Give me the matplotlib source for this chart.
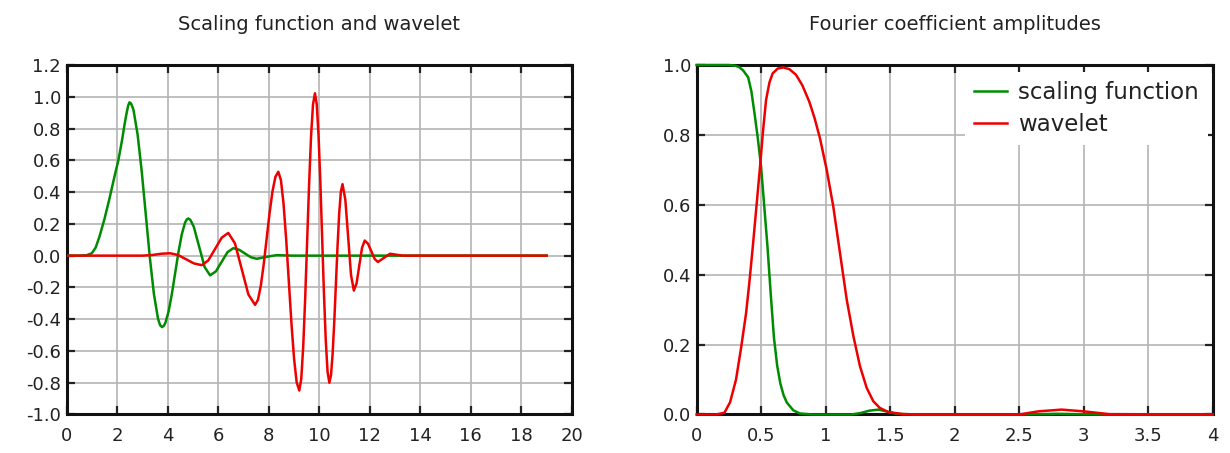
import matplotlib
matplotlib.use("Agg")
import matplotlib.pyplot as plt
import numpy as np

# left panel: scaling function (green) and wavelet (red)
phi_x = [0, 0.5, 0.8, 1.0, 1.15, 1.3, 1.5, 1.7, 1.9, 2.05, 2.2, 2.3, 2.38, 2.44, 2.49, 2.55, 2.61,
         2.651, 2.8125, 2.974, 3.135, 3.296, 3.4575, 3.619, 3.70, 3.78,
         3.85, 3.91, 4.04, 4.17, 4.30, 4.43, 4.56, 4.69, 4.76, 4.82,
         4.9, 5.035, 5.25, 5.465, 5.68, 5.91, 6.14, 6.37, 6.6,
         6.83, 7.06, 7.29, 7.52, 7.9, 8.3, 9.0, 19.0]
phi_y = [0, 0, 0.003, 0.015, 0.05, 0.118, 0.23, 0.36, 0.50, 0.60, 0.73, 0.83, 0.90, 0.945, 0.965, 0.958, 0.935,
         0.916, 0.762, 0.532, 0.26, -0.012, -0.242, -0.396, -0.437, -0.45,
         -0.441, -0.424, -0.350, -0.239, -0.108, 0.023, 0.134, 0.208, 0.228, 0.234,
         0.225, 0.182, 0.055, -0.072, -0.124, -0.099, -0.0385, 0.022, 0.047,
         0.037, 0.0135, -0.01, -0.02, -0.008, 0.003, 0.0, 0.0]

psi_x = [0, 1, 2, 3, 3.4, 3.75, 4.1,
         4.41, 4.725, 5.04, 5.35,
         5.61, 5.875, 6.14, 6.40,
         6.665, 6.93, 7.195, 7.46,
         7.575, 7.69, 7.805, 7.92, 8.035, 8.15, 8.265, 8.38,
         8.484, 8.5875, 8.691, 8.795, 8.899, 9.0025, 9.106, 9.21,
         9.2875, 9.365, 9.4425, 9.52, 9.5975, 9.675, 9.7525, 9.83,
         9.901, 9.9725, 10.044, 10.115, 10.186, 10.2575, 10.329, 10.40,
         10.465, 10.53, 10.595, 10.66, 10.725, 10.79, 10.855, 10.92,
         11.0325, 11.145, 11.2575, 11.37,
         11.4775, 11.585, 11.6925, 11.80,
         11.93, 12.06, 12.19, 12.32,
         12.56, 12.80, 13.05, 13.3, 14.0, 19.0]
psi_y = [0, 0, 0, 0, 0.004, 0.012, 0.015,
         0.004, -0.0225, -0.049, -0.06,
         -0.030, 0.0415, 0.113, 0.143,
         0.077, -0.0835, -0.244, -0.31,
         -0.278, -0.187, -0.051, 0.109, 0.269, 0.405, 0.496, 0.528,
         0.475, 0.326, 0.103, -0.1605, -0.424, -0.647, -0.797, -0.849,
         -0.778, -0.575, -0.272, 0.0865, 0.445, 0.748, 0.951, 1.022,
         0.953, 0.755, 0.460, 0.111, -0.238, -0.533, -0.731, -0.80,
         -0.752, -0.617, -0.414, -0.175, 0.064, 0.267, 0.402, 0.45,
         0.352, 0.115, -0.122, -0.22,
         -0.174, -0.0625, 0.049, 0.095,
         0.075, 0.0275, -0.020, -0.04,
         -0.014, 0.012, 0.006, 0.0, 0.0, 0.0]

# right panel: Fourier coefficient amplitudes
fphi_x = [0, 0.25, 0.3, 0.33, 0.36, 0.4, 0.425, 0.45, 0.475, 0.5, 0.525, 0.55, 0.575, 0.6,
          0.625, 0.65, 0.675, 0.7, 0.75, 0.8, 0.9,
          1.2, 1.27, 1.34, 1.41, 1.48, 1.55, 1.7, 2.5, 2.8, 3.1, 4.0]
fphi_y = [1.0, 1.0, 0.998, 0.994, 0.985, 0.965, 0.925, 0.86, 0.79, 0.71, 0.595, 0.48, 0.345, 0.22,
          0.14, 0.088, 0.055, 0.034, 0.012, 0.003, 0.0,
          0.0, 0.004, 0.011, 0.014, 0.008, 0.002, 0.0, 0.0, 0.002, 0.0, 0.0]

fpsi_x = [0, 0.15, 0.216, 0.26, 0.306, 0.345, 0.384, 0.41, 0.436, 0.463, 0.49, 0.515,
          0.539, 0.565, 0.59, 0.63, 0.673, 0.72, 0.771, 0.82, 0.874, 0.915, 0.957, 1.009, 1.06,
          1.112, 1.164, 1.216, 1.267, 1.319, 1.37, 1.42, 1.487, 1.6, 1.8,
          2.5, 2.65, 2.83, 3.0, 3.2, 4.0]
fpsi_y = [0, 0.0, 0.005, 0.035, 0.10, 0.19, 0.29, 0.38, 0.48, 0.59, 0.70, 0.81,
          0.90, 0.95, 0.976, 0.99, 0.993, 0.988, 0.972, 0.942, 0.895, 0.848, 0.79, 0.70, 0.595,
          0.462, 0.329, 0.224, 0.138, 0.076, 0.038, 0.019, 0.007, 0.001, 0.0,
          0.0, 0.009, 0.014, 0.009, 0.001, 0.0]

green = "#008c00"
red = "#ee0000"
txt = "#222222"

plt.rcParams["axes.unicode_minus"] = False
plt.rcParams["font.family"] = "DejaVu Sans"

fig = plt.figure(figsize=(12.3, 4.53), dpi=100)
ax1 = fig.add_axes([0.0541, 0.085, 0.4109, 0.7715])
ax2 = fig.add_axes([0.5663, 0.085, 0.4195, 0.7715])


def style(ax):
    ax.grid(True, color="#b4b4b4", lw=1.2)
    for s in ax.spines.values():
        s.set_linewidth(2.2)
        s.set_color("#111111")
    ax.tick_params(direction="in", top=True, right=True, length=6, width=1.6,
                   labelsize=13, labelcolor=txt, color="#222222")
    ax.tick_params(axis="x", pad=9)
    ax.tick_params(axis="y", pad=4)


def fmt1(v, pos):
    # avoid printing "-0.0"
    return "%.1f" % (round(v, 1) + 0.0)


ax1.plot(phi_x, phi_y, color=green, lw=1.8, zorder=3)
ax1.plot(psi_x, psi_y, color=red, lw=1.8, zorder=3)
ax1.set_xlim(0, 20)
ax1.set_ylim(-1.0, 1.2)
ax1.set_xticks(np.arange(0, 21, 2))
ax1.set_yticks(np.round(np.arange(-1.0, 1.21, 0.2), 1))
ax1.yaxis.set_major_formatter(matplotlib.ticker.FuncFormatter(fmt1))
ax1.set_title("Scaling function and wavelet", fontsize=14, color=txt, pad=25)
style(ax1)

ax2.plot(fphi_x, fphi_y, color=green, lw=1.8, zorder=3, clip_on=False, label="scaling function")
ax2.plot(fpsi_x, fpsi_y, color=red, lw=1.8, zorder=3, clip_on=False, label="wavelet")
ax2.set_xlim(0, 4)
ax2.set_ylim(0, 1.0)
ax2.set_xticks(np.round(np.arange(0, 4.01, 0.5), 1))
ax2.set_yticks(np.round(np.arange(0, 1.01, 0.2), 1))
ax2.xaxis.set_major_formatter(matplotlib.ticker.FormatStrFormatter("%g"))
ax2.yaxis.set_major_formatter(matplotlib.ticker.FuncFormatter(fmt1))
ax2.set_title("Fourier coefficient amplitudes", fontsize=14, color=txt, pad=25)
style(ax2)
leg = ax2.legend(loc="upper right", bbox_to_anchor=(0.991, 0.98), borderaxespad=0,
                 fontsize=16.5, frameon=True, facecolor="white", edgecolor="none",
                 framealpha=1, fancybox=False, handlelength=1.4, handletextpad=0.5,
                 labelspacing=0.4)
leg.set_zorder(2.4)
for t in leg.get_texts():
    t.set_color(txt)

fig.savefig("out.png", dpi=100)
